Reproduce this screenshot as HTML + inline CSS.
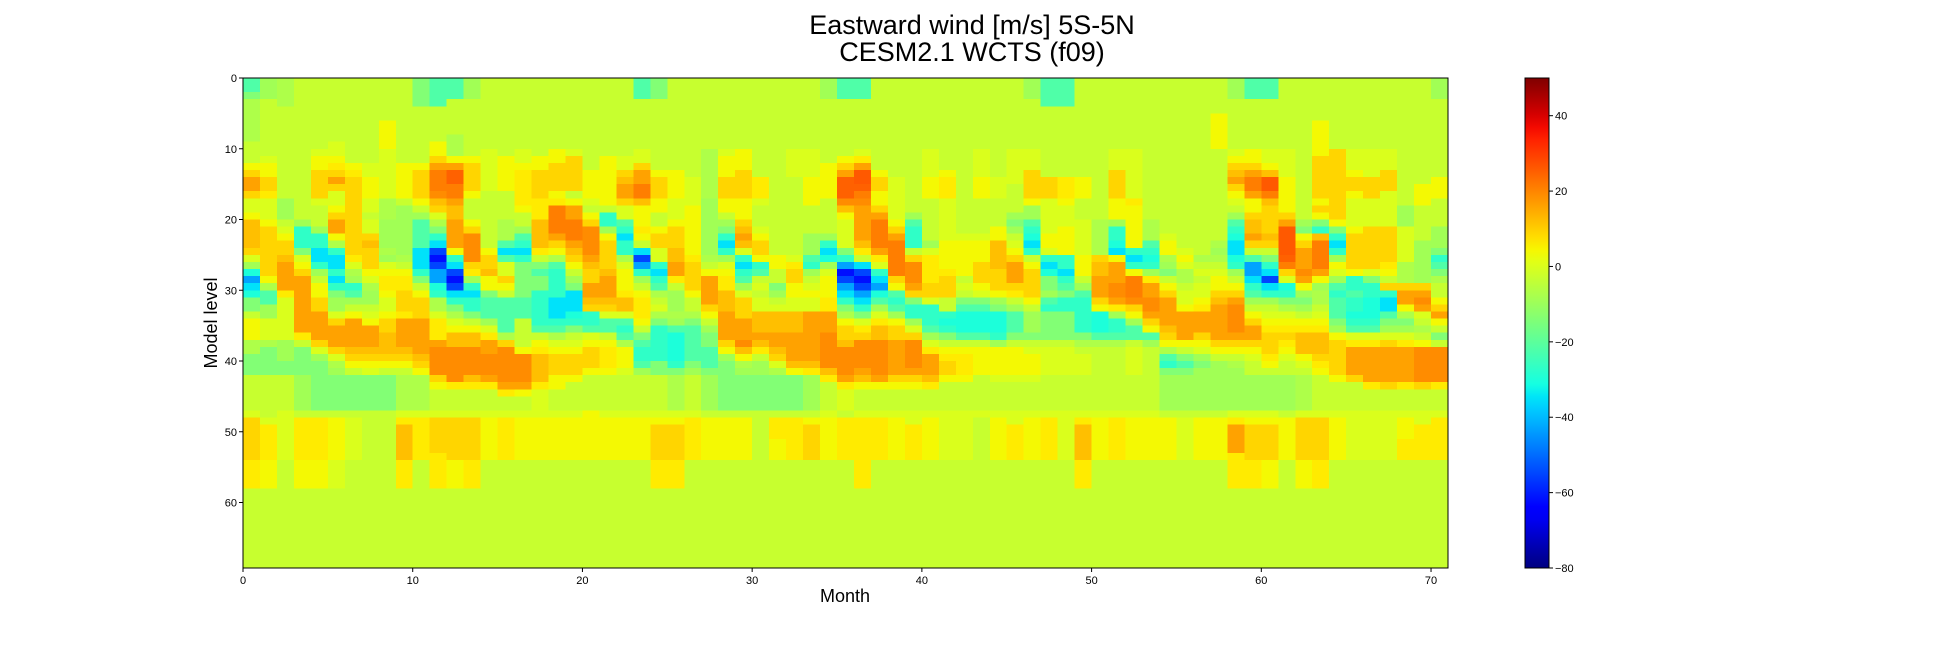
<!DOCTYPE html>
<html><head><meta charset="utf-8">
<style>
html,body{margin:0;padding:0;background:#fff;}
svg{display:block;font-family:"Liberation Sans",sans-serif;}
</style></head>
<body>
<svg id="fig" width="1944" height="648" viewBox="0 0 1944 648" xmlns="http://www.w3.org/2000/svg">
<defs>
<clipPath id="plotclip"><rect x="243" y="78" width="1205" height="490"/></clipPath>
<linearGradient id="cbgrad" x1="0" y1="1" x2="0" y2="0"></linearGradient>
</defs>
<text x="972" y="34" text-anchor="middle" font-size="27" fill="#000">Eastward wind [m/s] 5S-5N</text>
<text x="972" y="61" text-anchor="middle" font-size="27" fill="#000">CESM2.1 WCTS (f09)</text>
<g id="cells" clip-path="url(#plotclip)" shape-rendering="crispEdges"></g>
<rect x="243" y="78" width="1205" height="490" fill="none" stroke="#000" stroke-width="1"/>
<g id="xaxis"></g>
<g id="yaxis"></g>
<text x="845" y="602" text-anchor="middle" font-size="18" fill="#000">Month</text>
<text transform="translate(217,323) rotate(-90)" text-anchor="middle" font-size="18" fill="#000">Model level</text>
<rect x="1525" y="78" width="24" height="490" fill="url(#cbgrad)" stroke="#000" stroke-width="1"/>
<g id="cbaxis"></g>
</svg>
<script>
// value key for codes
const codeKeys = ["A","B","C","D","E","F","G","H","I","J","K","L","M","N","O","P","Q","R","S","T","U","V"];
const codeValues = [-62,-55,-43,-35,-30,-27,-22,-14,-9,-7,-3,0,4,6,9,12,16,19,21,25,26,29];
// one run-length string per month (levels 0..69, top to bottom)
const months = [
"G2H1J6K3M1O1Q2O1L2M1P4O1L1I1E1C1D1E1H2K1M3J2H3K5L1O6N4K12",
"I3K8L1M2O2N1L3M1O7M1J1G2I2L3J1H4K6L1N5M4K12",
"J4K13I3K1L1M1O2P1Q4N1L6I3H2K5L7K16",
"K20I1F3H1L1M1O1Q8N1K1H4I5K1N6M4K12",
"K10L1M2O4L1K3I1F2D2F1I1K1M2O2Q4O1L1I1H7K1N6M4K12",
"K9L2M1N1O1Q1O1L2M1O1Q2M1J1F1D2F1D1F1H1I2L1O1Q3O1L1J1I1H5K1M6L4K12",
"K12M1N1O11N1L1J1I1F1G1I1K1M1Q4P1O1M1K1H5K1L6K16",
"K12L2M3L2K1L2O1P1O3M1L1J1I2K1L1M1Q3P1O1M1L1H5K23",
"K6M4L7J3I4J1I1L1M1N2M1L2M1O2P3O1M1K1H5K23",
"K12M5K1I7J1K1M1N2O3N1Q4P1O1M1K1J5L1N1P5N4K12",
"H4K8M1O4M1K1I1G4D3F1H1K1M1O3Q5P1O1M1J5L1N6K16",
"G4K5M2O1Q1S3R1P1O1L1J1H1F1D1B1A1B1C2E1F1J2L1N3Q1R4O1M1K3L1O5N5K12",
"G3K5J3M1Q1T2S2Q1P2Q4M1F1D1B1A1B1D1F1H1J1L1M1P2R5N1K3L1O6M4K12",
"I3K8M1O4M1K3M1O1R4O1N1I1F1D1F2H1K1M1P2R4P1N1K3L1O6N4K12",
"K10L6K8M1O2P1M2H1G3I1L1N1Q2R3Q1N1K3L1M6K16",
"K11M5K4J3G1D1G1L2O1M1K1G5J1O1R5Q1N1K2L1N6K16",
"K10L2M1N5M1K2I1G1F1D1F1H5G3K4M1R4Q1M1K2L1M6K16",
"K11M2O4N3P4N1K1H1G1H2F5G1K1M1N1P4N1L4M6K16",
"K10M2O4M1N1S4Q1O1M1J1G1F4D3F1G1J1L1M1O3M2K3L1M6K16",
"K10L1O5K1M1Q2S3Q1P1O1M1K1I1H1D3E1F1H1K1L1M1O3M1K4L1M6K16",
"K13M4L1K1M1O1R4Q1P1O2Q2P1O1F2G1L1M1O3M1K5M7K16",
"K11M7K1F2I1M1O4P1Q3P1O1L1G2K1M1N3M1K5L1M6K16",
"K11L2O1P1Q2O1L2G1F1D1F2J1L1M3N1P2L1G1F1G1J1M3L1K5L1M6K16",
"G3K7L2O1Q2S2P1M3N1M1K1D1B1C1F1I1K1M1N3M1K1H1G1F2G1I1K5L1M6K16",
"H3K10M1O3M2K2M1O2L2F1D1F1G1J1K1L1J1H1F5H2K5L1M1O5N4K12",
"K13M4L3M1O3P2Q2N1K1I3J1I1G1E4F1H1J5L1M1O5N4K12",
"K14L4M7N1O4M1K2J1H1G5H1I1K5L1N6K16",
"K10J7I8J1K1M1Q4O1M1K1I1H2G3H1I5K1M6K16",
"K10L1M3O3M2K1I1H1F1D1F1I1L1M1N2P3Q4O1M1I1H7K1M6K16",
"K10M3O4M3O1P1Q1P1L1F1D1F1G1I1L1O3Q3R1P1M1J1I1H5K1M6K16",
"K14N3L1K3L1M1O2M1F1G1K1L1K1L2P3Q1P1N1K1I2H5K23",
"K25M2K2H1I1K1L1P3Q2P1O1L1J1H5K1N3M3K16",
"K10L4K11L1N1O2M2L2P3Q4P1M1H5K1N6K16",
"K10L4M4K4I3G1F1I1K1L1M1L2Q7P1N1I5K1M1O5K16",
"I3K9M5K5I1F1D1E1I1L1M3N2Q3R5P1N1K4L1M6K16",
"G3K8M1O1Q1T3R1P1M1L4H1F1C1A1B1C1D1F1H1J1M1O2P1R4Q1N1L3K1N6K16",
"G3K7L1N1Q1U2T1S1R1Q5P1N1K1D1B1A1B1C1D1F1H1L1N1O1R4Q1P1M1K3L1N10K12",
"K13M1O2M2O1Q1S4Q1N1L1F1D1C1E1G1I1L1N1P2R5Q1M1K3L1N6K16",
"K14L6M1O1Q1S5O1M1G1F1G1I1M1O2Q5O1M1K3L1M6K16",
"K19I1G1F3K1O1R3Q1O1H1F2I1L1O1R4Q1O1M1K3L2N5K16",
"K10L4M3K6I1L1N4O2L1F3G1I1L1N1Q3P1N1K3L1M6K16",
"K13M1N3L6M4N1O3K2F1E1F1H1K1M1N1O2M1K4L7K16",
"K22L1M5K1L1K1H1G1E3G1K1M1N3M1K4L7K16",
"K10L4M3K5L1M3O3M1L1H1G1E3G1K1M4K5L1K22",
"K14L3K4M2P4O3M1I1H1E3F1I1M4L1K4L1M6K16",
"K10L5K4I1H1I1K1L1M1O1Q3O1N1K1I1G3H1K1M4L1K4L2N5K16",
"I3K7L3O4M1I2G1F1E1D1F1K1M1O4M1K1I3H1K1L1M3L1K4L1M6K16",
"G4K10O3L5M2L1F1D1E1H2I1G1F1H4K1L4K5L1N6K16",
"G4K10N3M1L3M4F2D1F1G1H1F2H4K1L4K5L7K16",
"K14M3K3L5M3K1I1G1F5H1J1K1L3K5L1N1P5N4K12",
"K20J5O1P2Q3O1M1E3G1J1K9L1M6K16",
"K10L3O4M3I1F2E1D1M1Q3R2Q1N1I1F2G1J1K9L1N6K16",
"K10L7N1M6F1D1F1M1S3R1O1M1I1G2K1L4K5L1M6K16",
"K20J3G1F1E1F1I1N1Q2R2Q1O1M1G1I1K9L1M6K16",
"K22L1M2J1I1H1K1M1O1Q4P1O1M1J1G1F1H1I5K1M6K16",
"K24L1M1L1J2K1L2M1Q4M1K1H1G1H1I5K1L6K16",
"K25J1K1L1K1L2M1N1Q3O1M1L1I1H1I2I4K1M6K16",
"K5M5K13J1I1J1K1L1M2O1P1Q5O1M1K1I2I5K1M6K16",
"I3K7L1M1O1P1Q1O1M1L1K1I1G1F1E1D2E1F1I1K1M1O1Q1R4Q1O1M1K1J1I1I5L1N1Q4N5K12",
"G3K7M2O1Q1S2Q1M2O1P2Q1O1K1G1C2D1F1G1I1K1M1O1Q2O1M1L1K2I5L1M1O5N4K12",
"G3K7L2M1P1U2S1P1O4P1O1K1H1F1D1B1D1F1I1K1L1M1N1O3N1M1K1I5L1M1O5M4K12",
"K10L4M5O1Q1U4T1S1O1L1E1F1H1J1L1M1N1O1N1M1L1K2I5K1M6K16",
"K20I1H1M1O1Q3R1Q1M1I1H1I1K1M1N1P3M1L1K1J5L1O6M4K12",
"K6M5O6M1O1M1H1F1P1S4Q1M1I1J2K1L1M1N1P3O1N1M1K5L1O6N4K12",
"K10O10M1H1F1D1F1I1M1L1I1G1F1G3H1I1M1O5M1K4L1M6K16",
"K10L3M1O2M1L4M1O5M1F2G1F2E1F1G1L1N1Q4O1K4L7K16",
"K10L4O3L4O6L1H1F2E3F1G1L1N1Q5N1K3L7K16",
"K10L3O3L5O5N1M1K1O1F1D2G1H1I1L1O1Q5O1K3L7K16",
"K18I3L5J3O1Q2M1J1H1I1L1N1Q5N1K3L1M3N3K16",
"K15M3K5I6O1Q1R1Q1L1K1J1K1M1R5O1K3L2N5K16",
"I3K11M3K4I3H1F1G1H1J1K2M1O1Q1M1K1H1K1R5N1K3L1N6K16"
];
const xTicks = [0,10,20,30,40,50,60,70];
const yTicks = [0,10,20,30,40,50,60];
const cbTicks = [-80,-60,-40,-20,0,20,40];
const vmin = -80, vmax = 50;

const NS = "http://www.w3.org/2000/svg";
const PX0 = 243, PX1 = 1448, PY0 = 78, PY1 = 568;
const nLevels = 70;
const xScale = m => PX0 + m * (PX1 - PX0) / 71;
const yScale = l => PY0 + l * 7.075;
const CBX = 1525, CBW = 24;
const cbScale = v => PY1 - (v - vmin) / (vmax - vmin) * (PY1 - PY0);

function interp(seg, x){
  for (let i=1;i<seg.length;i++){
    if (x <= seg[i][0]){
      const a=seg[i-1], b=seg[i];
      return a[1] + (b[1]-a[1])*(x-a[0])/(b[0]-a[0]);
    }
  }
  return seg[seg.length-1][1];
}
const RS=[[0,0],[0.35,0],[0.66,1],[0.89,1],[1,0.5]];
const GS=[[0,0],[0.125,0],[0.375,1],[0.64,1],[0.91,0],[1,0]];
const BS=[[0,0.5],[0.11,1],[0.34,1],[0.65,0],[1,0]];
function jet(v){
  let x=(v-vmin)/(vmax-vmin); x=Math.max(0,Math.min(1,x));
  const c=s=>Math.round(255*interp(s,x));
  return `rgb(${c(RS)},${c(GS)},${c(BS)})`;
}
function decode(s){
  const out=[]; const re=/([A-Z])(\d+)/g; let m;
  while((m=re.exec(s))){
    const v=codeValues[codeKeys.indexOf(m[1])];
    for(let i=0;i<+m[2];i++) out.push(v);
  }
  while(out.length<nLevels) out.push(out[out.length-1]);
  return out.slice(0,nLevels);
}
const cells=document.getElementById('cells');
months.forEach((s,mi)=>{
  const vals=decode(s);
  vals.forEach((v,li)=>{
    const r=document.createElementNS(NS,'rect');
    const x0=xScale(mi), x1=xScale(mi+1), y0=yScale(li), y1=yScale(li+1);
    r.setAttribute('x',x0.toFixed(2)); r.setAttribute('y',y0.toFixed(2));
    r.setAttribute('width',(x1-x0+0.6).toFixed(2)); r.setAttribute('height',(y1-y0+0.6).toFixed(2));
    r.setAttribute('fill',jet(v));
    
    
    cells.appendChild(r);
  });
});
function line(g,x1,y1,x2,y2){
  const l=document.createElementNS(NS,'line');
  l.setAttribute('x1',x1);l.setAttribute('y1',y1);l.setAttribute('x2',x2);l.setAttribute('y2',y2);
  l.setAttribute('stroke','#000');l.setAttribute('stroke-width','1');
  
  
  g.appendChild(l);
}
function label(g,x,y,txt,anchor){
  const t=document.createElementNS(NS,'text');
  t.setAttribute('x',x);t.setAttribute('y',y);t.setAttribute('text-anchor',anchor);
  t.setAttribute('font-size','11');t.setAttribute('fill','#000');
  t.textContent=txt;
  
  
  g.appendChild(t);
}
const xa=document.getElementById('xaxis');
xTicks.forEach(t=>{const x=xScale(t); line(xa,x,PY1,x,PY1+4); label(xa,x,PY1+16,String(t),'middle');});
const ya=document.getElementById('yaxis');
yTicks.forEach(t=>{const y=yScale(t); line(ya,PX0-4,y,PX0,y); label(ya,PX0-6,y+4,String(t),'end');});
const ca=document.getElementById('cbaxis');
cbTicks.forEach(t=>{const y=cbScale(t); line(ca,CBX+CBW,y,CBX+CBW+4,y); label(ca,CBX+CBW+6,y+4,String(t).replace('-','\u2212'),'start');});
const grad=document.getElementById('cbgrad');
for(let i=0;i<=40;i++){
  const st=document.createElementNS(NS,'stop');
  st.setAttribute('offset',(i/40).toFixed(3));
  st.setAttribute('stop-color',jet(vmin+(vmax-vmin)*i/40));
  grad.appendChild(st);
}
</script>
</body></html>
